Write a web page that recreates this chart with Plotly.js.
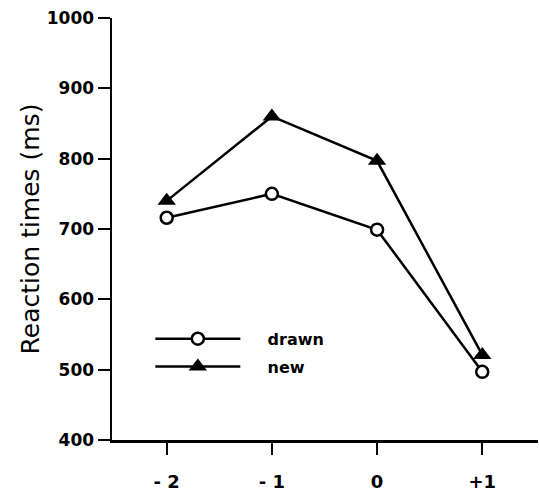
<!DOCTYPE html>
<html>
<head>
<meta charset="utf-8">
<script src="https://cdn.plot.ly/plotly-3.0.1.min.js"></script>
<style>
  html, body { margin: 0; padding: 0; background: #fff; }
  #chart { width: 539px; height: 494px; }
</style>
</head>
<body>
<div id="chart"></div>
<script>
// Data
const categories = ['-2', '-1', '0', '+1'];
const tickLabels = ['- 2', '- 1', '0', '+1'];
const drawnRT = [716, 750, 699, 497];
const newRT = [740, 860, 797, 521];
const seriesNames = ['drawn', 'new'];
const yTicks = [400, 500, 600, 700, 800, 900, 1000];

const pad = '\u00A0\u00A0\u00A0\u00A0';

const traceDrawn = {
  x: categories, y: drawnRT, name: pad + seriesNames[0], legendgroup: 'a',
  type: 'scatter', mode: 'lines+markers',
  line: { color: '#000', width: 2.5 },
  marker: { symbol: 'circle', size: 12, color: '#fff', line: { color: '#000', width: 2.5 } }
};
const traceNew = {
  x: categories, y: newRT, name: pad + seriesNames[1], legendgroup: 'b',
  type: 'scatter', mode: 'lines+markers',
  line: { color: '#000', width: 2.5 },
  marker: { symbol: 'triangle-up', size: 16, color: '#000', line: { color: '#000', width: 0 } }
};

const layout = {
  width: 539, height: 494,
  margin: { l: 112, r: 1, t: 18, b: 54 },
  paper_bgcolor: '#fff', plot_bgcolor: '#fff',
  font: { family: 'DejaVu Sans', color: '#000' },
  showlegend: true,
  legend: {
    x: 0.09, y: 0.28, xanchor: 'left', yanchor: 'top',
    itemwidth: 85, traceorder: 'grouped', tracegroupgap: 4,
    font: { family: 'DejaVu Sans', size: 16, weight: 'bold', color: '#000' },
    bgcolor: 'rgba(0,0,0,0)'
  },
  xaxis: {
    type: 'category', range: [-0.52, 3.53],
    tickmode: 'array', tickvals: categories, ticktext: tickLabels,
    showgrid: false, zeroline: false,
    showline: true, linecolor: '#000', linewidth: 2.5,
    ticks: 'outside', ticklen: 12, tickwidth: 2, tickcolor: '#000',
    ticklabelstandoff: 12,
    tickfont: { family: 'DejaVu Sans', size: 18, weight: 'bold', color: '#000' }
  },
  yaxis: {
    range: [400, 1000],
    tickmode: 'array', tickvals: yTicks,
    showgrid: false, zeroline: false,
    showline: true, linecolor: '#000', linewidth: 2.5,
    ticks: 'outside', ticklen: 12, tickwidth: 2, tickcolor: '#000',
    tickfont: { family: 'DejaVu Sans', size: 17, weight: 'bold', color: '#000' },
    title: { text: 'Reaction times (ms)', standoff: 0,
             font: { family: 'DejaVu Sans', size: 25, color: '#000' } }
  }
};

Plotly.newPlot('chart', [traceDrawn, traceNew], layout, { displayModeBar: false, staticPlot: true });
</script>
</body>
</html>
